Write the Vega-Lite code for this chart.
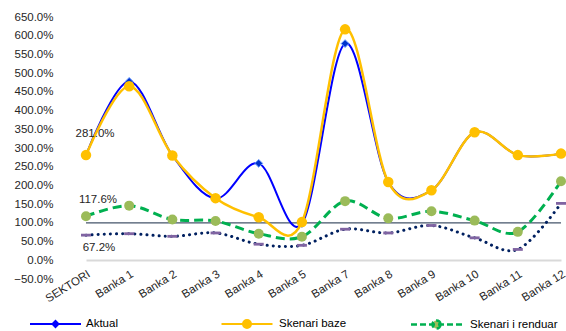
{
  "$schema": "https://vega.github.io/schema/vega-lite/v6.json",
  "width": 502,
  "height": 262,
  "autosize": {"type": "none"},
  "padding": {"left": 64, "top": 17, "right": 0, "bottom": 52},
  "config": {"view": {"stroke": null}, "font": "Liberation Sans"},
  "data": {"values": [
    {"bank": "SEKTORI", "aktual": 281, "baze": 281, "renduar": 117.6, "dotted": 67.2},
    {"bank": "Banka 1", "aktual": 478, "baze": 465, "renduar": 146, "dotted": 71},
    {"bank": "Banka 2", "aktual": 280, "baze": 280, "renduar": 109, "dotted": 64},
    {"bank": "Banka 3", "aktual": 165, "baze": 166, "renduar": 105, "dotted": 73},
    {"bank": "Banka 4", "aktual": 259, "baze": 115, "renduar": 71, "dotted": 43},
    {"bank": "Banka 5", "aktual": 98, "baze": 102, "renduar": 63, "dotted": 40},
    {"bank": "Banka 7", "aktual": 579, "baze": 617, "renduar": 158, "dotted": 83},
    {"bank": "Banka 8", "aktual": 209, "baze": 209, "renduar": 112, "dotted": 73},
    {"bank": "Banka 9", "aktual": 187, "baze": 187, "renduar": 131, "dotted": 93},
    {"bank": "Banka 10", "aktual": 342, "baze": 342, "renduar": 106, "dotted": 60},
    {"bank": "Banka 11", "aktual": 281, "baze": 281, "renduar": 76, "dotted": 29},
    {"bank": "Banka 12", "aktual": 285, "baze": 285, "renduar": 211, "dotted": 152}
  ]},
  "encoding": {
    "x": {
      "field": "bank", "type": "nominal", "sort": null,
      "scale": {"type": "point", "range": [22, 497], "padding": 0},
      "axis": {"title": null, "domain": false, "ticks": false, "labelAngle": -32, "labelAlign": "right", "labelBaseline": "middle", "offset": -10, "labelPadding": 4, "labelOffset": 3, "labelFontSize": 11.5, "labelColor": "#262626"}
    }
  },
  "layer": [
    {
      "mark": {"type": "line", "color": "#44546A", "strokeWidth": 1.2},
      "encoding": {
        "y": {"datum": 100, "type": "quantitative",
          "scale": {"domain": [-50, 650], "nice": false, "zero": false},
          "axis": {"title": null, "grid": true, "gridWidth": 2, "tickCount": 20,
            "gridColor": {"condition": {"test": "datum.value === 0", "value": "#D9D9D9"}, "value": "transparent"},
            "ticks": false, "domain": false, "labelPadding": 11, "labelFontSize": 11.5, "labelColor": "#262626", "labelOverlap": false,
            "values": [-50, 0, 50, 100, 150, 200, 250, 300, 350, 400, 450, 500, 550, 600, 650],
            "labelExpr": "format(datum.value, '.1f') + '%'"}}
      }
    },
    {
      "mark": {"type": "line", "color": "#002060", "strokeWidth": 3, "strokeDash": [0.1, 6], "strokeCap": "round", "interpolate": "cardinal", "tension": 0},
      "encoding": {"y": {"field": "dotted", "type": "quantitative"}}
    },
    {
      "mark": {"type": "point", "filled": true, "opacity": 1, "color": "#8064A2", "size": 100, "shape": "M-1,-0.28L1,-0.28L1,0.28L-1,0.28Z"},
      "encoding": {"y": {"field": "dotted", "type": "quantitative"}}
    },
    {
      "mark": {"type": "line", "strokeWidth": 3, "strokeDash": [9, 5], "interpolate": "cardinal", "tension": 0},
      "encoding": {
        "y": {"field": "renduar", "type": "quantitative"},
        "color": {"datum": "Skenari i renduar", "type": "nominal", "scale": {"range": ["#00B050"]},
          "legend": {"orient": "none", "legendX": 366, "legendY": 301, "title": null, "padding": 0,
            "symbolType": "M-5.1,0L5.1,0M0.8,0C0.8,0.44,0.44,0.8,0,0.8C-0.44,0.8,-0.8,0.44,-0.8,0C-0.8,-0.44,-0.44,-0.8,0,-0.8C0.44,-0.8,0.8,-0.44,0.8,0Z",
            "symbolSize": 100, "symbolStrokeWidth": 2.5, "symbolDash": [6, 3], "labelOffset": 27, "labelFontSize": 11.5, "labelColor": "#000000",
            "encode": {"symbols": {"update": {"fill": {"value": "#9BBB59"}}}}}}
      }
    },
    {
      "mark": {"type": "point", "filled": true, "opacity": 1, "color": "#9BBB59", "size": 100, "shape": "circle"},
      "encoding": {"y": {"field": "renduar", "type": "quantitative"}}
    },
    {
      "mark": {"type": "line", "strokeWidth": 2, "interpolate": "cardinal", "tension": 0},
      "encoding": {
        "y": {"field": "aktual", "type": "quantitative"},
        "color": {"datum": "Aktual", "type": "nominal", "scale": {"range": ["#0000FF"]},
          "legend": {"orient": "none", "legendX": -14.5, "legendY": 301, "title": null, "padding": 0,
            "symbolType": "M-5.1,0L5.1,0M0,-0.6L0.6,0L0,0.6L-0.6,0Z",
            "symbolSize": 100, "symbolStrokeWidth": 2, "labelOffset": 24.5, "labelFontSize": 11.5, "labelColor": "#000000",
            "encode": {"symbols": {"update": {"fill": {"value": "#0000FF"}}}}}}
      }
    },
    {
      "mark": {"type": "point", "filled": true, "opacity": 1, "color": "#0033CC", "stroke": "#6699FF", "strokeWidth": 1, "size": 60, "shape": "diamond"},
      "encoding": {"y": {"field": "aktual", "type": "quantitative"}}
    },
    {
      "mark": {"type": "line", "strokeWidth": 2.5, "interpolate": "cardinal", "tension": 0},
      "encoding": {
        "y": {"field": "baze", "type": "quantitative"},
        "color": {"datum": "Skenari baze", "type": "nominal", "scale": {"range": ["#FFC000"]},
          "legend": {"orient": "none", "legendX": 177, "legendY": 301, "title": null, "padding": 0,
            "symbolType": "M-5.1,0L5.1,0M0.8,0C0.8,0.44,0.44,0.8,0,0.8C-0.44,0.8,-0.8,0.44,-0.8,0C-0.8,-0.44,-0.44,-0.8,0,-0.8C0.44,-0.8,0.8,-0.44,0.8,0Z",
            "symbolSize": 100, "symbolStrokeWidth": 2, "labelOffset": 26, "labelFontSize": 11.5, "labelColor": "#000000",
            "encode": {"symbols": {"update": {"fill": {"value": "#FFC000"}}}}}}
      }
    },
    {
      "mark": {"type": "point", "filled": true, "opacity": 1, "color": "#FFC000", "size": 110, "shape": "circle"},
      "encoding": {"y": {"field": "baze", "type": "quantitative"}}
    },
    {
      "transform": [{"filter": "datum.bank == 'SEKTORI'"}, {"calculate": "format(datum.baze, '.1f') + '%'", "as": "lab"}],
      "mark": {"type": "text", "fontSize": 11.5, "color": "#262626", "dx": 9, "dy": -21},
      "encoding": {"y": {"field": "baze", "type": "quantitative"}, "text": {"field": "lab"}}
    },
    {
      "transform": [{"filter": "datum.bank == 'SEKTORI'"}, {"calculate": "format(datum.renduar, '.1f') + '%'", "as": "lab"}],
      "mark": {"type": "text", "fontSize": 11.5, "color": "#262626", "dx": 12, "dy": -16},
      "encoding": {"y": {"field": "renduar", "type": "quantitative"}, "text": {"field": "lab"}}
    },
    {
      "transform": [{"filter": "datum.bank == 'SEKTORI'"}, {"calculate": "format(datum.dotted, '.1f') + '%'", "as": "lab"}],
      "mark": {"type": "text", "fontSize": 11.5, "color": "#262626", "dx": 13, "dy": 13},
      "encoding": {"y": {"field": "dotted", "type": "quantitative"}, "text": {"field": "lab"}}
    }
  ],
  "resolve": {"scale": {"color": "independent"}}
}
